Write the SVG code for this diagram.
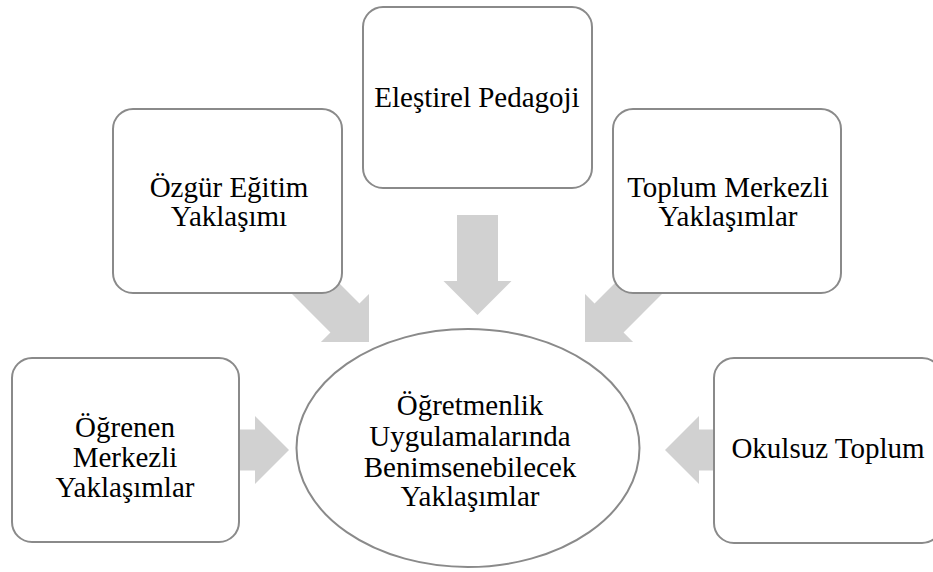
<svg xmlns="http://www.w3.org/2000/svg" width="933" height="572" viewBox="0 0 933 572">
<style>
.box{fill:#ffffff;stroke:#8a8a8a;stroke-width:2}
.arr{fill:#d1d1d1;stroke:none}
.t{font-family:"Liberation Serif","Times New Roman",serif;font-size:29px;fill:#000000;text-anchor:middle}
</style>
<defs>
<path id="bigarrow" d="M-100,-20.5 L-34,-20.5 L-34,-34 L0,0 L-34,34 L-34,20.5 L-100,20.5 Z"/>
</defs>
<rect width="933" height="572" fill="#ffffff"/>
<g id="connectors">
<use href="#bigarrow" class="arr" transform="translate(477.5,315) rotate(90)"/>
<use href="#bigarrow" class="arr" transform="translate(369,342) rotate(45)"/>
<use href="#bigarrow" class="arr" transform="translate(585,342) rotate(135)"/>
<use href="#bigarrow" class="arr" transform="translate(289,450)"/>
<use href="#bigarrow" class="arr" transform="translate(665,450) rotate(180)"/>
</g>
<g id="node-center">
<ellipse class="box" cx="468" cy="448" rx="171.5" ry="119"/>
<text class="t" x="470" y="415">Öğretmenlik</text>
<text class="t" x="470" y="446">Uygulamalarında</text>
<text class="t" x="470" y="477">Benimsenebilecek</text>
<text class="t" x="470" y="506">Yaklaşımlar</text>
</g>
<g id="node-elestirel">
<rect class="box" x="363" y="7" width="229" height="181" rx="20"/>
<text class="t" x="477" y="107">Eleştirel Pedagoji</text>
</g>
<g id="node-ozgur">
<rect class="box" x="113" y="109" width="229" height="184" rx="20"/>
<text class="t" x="229" y="197">Özgür Eğitim</text>
<text class="t" x="229" y="226">Yaklaşımı</text>
</g>
<g id="node-toplum">
<rect class="box" x="613" y="109" width="228" height="184" rx="20"/>
<text class="t" x="728" y="197">Toplum Merkezli</text>
<text class="t" x="728" y="226">Yaklaşımlar</text>
</g>
<g id="node-ogrenen">
<rect class="box" x="12" y="358" width="227" height="184" rx="20"/>
<text class="t" x="125" y="437">Öğrenen</text>
<text class="t" x="125" y="467">Merkezli</text>
<text class="t" x="125" y="497">Yaklaşımlar</text>
</g>
<g id="node-okulsuz">
<rect class="box" x="714" y="358" width="228" height="185" rx="20"/>
<text class="t" x="828" y="458">Okulsuz Toplum</text>
</g>
</svg>
